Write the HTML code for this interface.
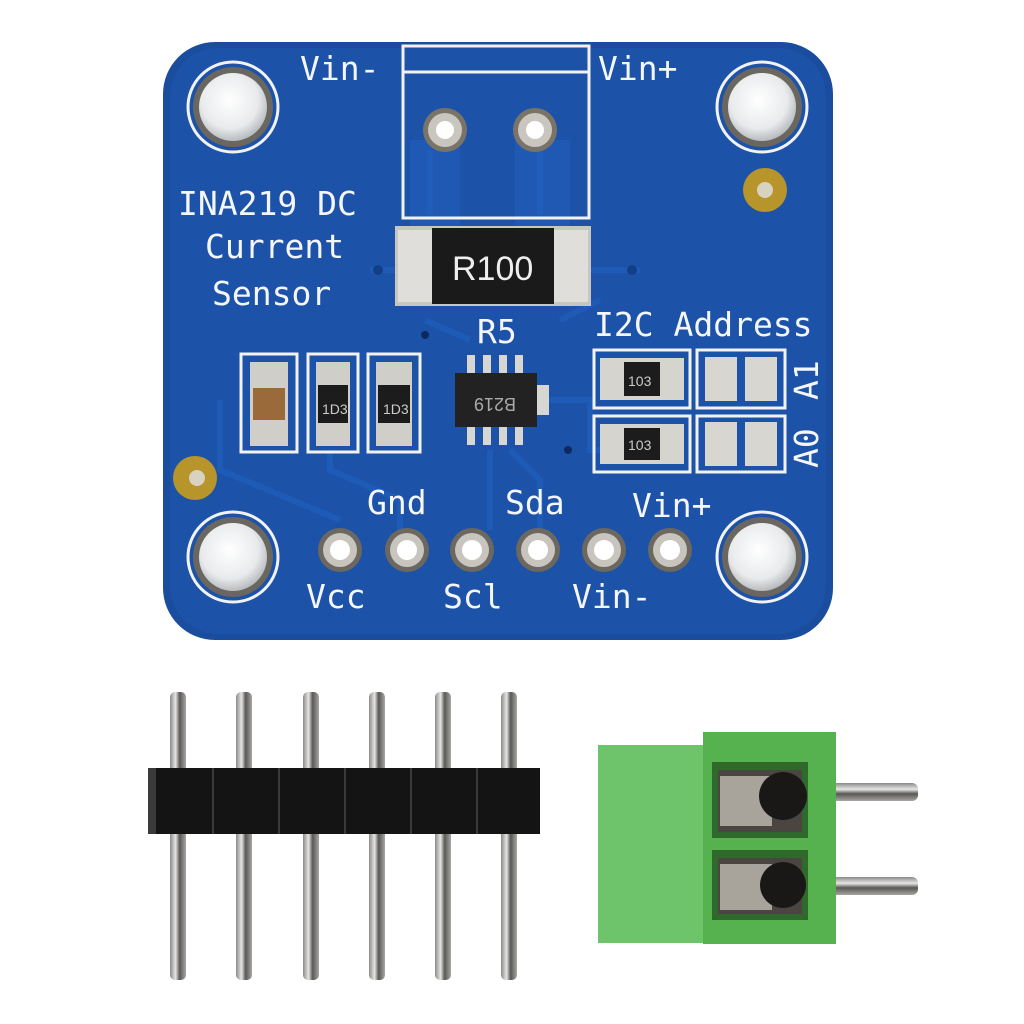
<!DOCTYPE html>
<html><head><meta charset="utf-8"><style>
html,body{margin:0;padding:0;background:#fff;width:1024px;height:1024px;overflow:hidden}
svg{display:block}
.t{font-family:"DejaVu Sans Mono","Liberation Mono",monospace;fill:#f4f6fa;font-size:33px}
</style></head><body>
<svg width="1024" height="1024" viewBox="0 0 1024 1024" xmlns="http://www.w3.org/2000/svg">
<defs>
<radialGradient id="hole" cx="0.45" cy="0.4" r="0.6"><stop offset="0" stop-color="#fff"/><stop offset="0.7" stop-color="#e8eaec"/><stop offset="1" stop-color="#b8bcc0"/></radialGradient>
<linearGradient id="pin" x1="0" x2="1"><stop offset="0" stop-color="#8a8a88"/><stop offset="0.35" stop-color="#e6e6e4"/><stop offset="0.6" stop-color="#5a5856"/><stop offset="1" stop-color="#a8a6a2"/></linearGradient>
<linearGradient id="pinh" x1="0" y1="0" x2="0" y2="1"><stop offset="0" stop-color="#8a8a88"/><stop offset="0.35" stop-color="#e6e6e4"/><stop offset="0.6" stop-color="#5a5856"/><stop offset="1" stop-color="#a8a6a2"/></linearGradient>
</defs>
<!-- board -->
<rect x="163" y="42" width="670" height="598" rx="52" fill="#1b4d9e"/>
<rect x="170" y="48" width="656" height="586" rx="48" fill="#1c52a8"/>
<!-- traces -->
<g stroke="#1f5cb8" stroke-width="6" fill="none" opacity="0.9">
<path d="M430 150 L430 215 M540 150 L540 215"/>
<path d="M370 270 L395 270 M590 270 L640 270"/>
<path d="M220 400 L220 470 L340 520 M330 450 L330 470 L400 500 L400 540"/>
<path d="M490 450 L490 530 M510 450 L540 480 L540 540 M545 400 L590 400 L590 450 L660 450"/>
<path d="M425 320 L470 340 M560 320 L600 300"/>
</g>
<path d="M410 140 L410 230 L460 230 L460 140 Z M515 140 L515 230 L570 230 L570 140 Z" fill="#2460bf" opacity="0.5"/>
<!-- mounting holes -->
<g>
<circle cx="233" cy="107" r="45" fill="none" stroke="#f2f2f2" stroke-width="3"/><circle cx="233" cy="107" r="40" fill="#6a6660"/><circle cx="233" cy="107" r="34" fill="url(#hole)"/>
<circle cx="762" cy="107" r="45" fill="none" stroke="#f2f2f2" stroke-width="3"/><circle cx="762" cy="107" r="40" fill="#6a6660"/><circle cx="762" cy="107" r="34" fill="url(#hole)"/>
<circle cx="233" cy="557" r="45" fill="none" stroke="#f2f2f2" stroke-width="3"/><circle cx="233" cy="557" r="40" fill="#6a6660"/><circle cx="233" cy="557" r="34" fill="url(#hole)"/>
<circle cx="762" cy="557" r="45" fill="none" stroke="#f2f2f2" stroke-width="3"/><circle cx="762" cy="557" r="40" fill="#6a6660"/><circle cx="762" cy="557" r="34" fill="url(#hole)"/>
</g>
<!-- gold fiducial pads -->
<circle cx="765" cy="190" r="22" fill="#b8952a"/><circle cx="765" cy="190" r="8" fill="#d8d2c0"/>
<circle cx="195" cy="478" r="22" fill="#b8952a"/><circle cx="197" cy="478" r="8" fill="#d8d2c0"/>
<!-- terminal outline -->
<rect x="403" y="46" width="186" height="172" fill="none" stroke="#f2f2f2" stroke-width="3"/>
<line x1="403" y1="72" x2="589" y2="72" stroke="#f2f2f2" stroke-width="3"/>
<circle cx="445" cy="130" r="22" fill="#7a7468"/><circle cx="445" cy="130" r="17" fill="#c9c6c0"/><circle cx="445" cy="130" r="9" fill="#fff"/>
<circle cx="535" cy="130" r="22" fill="#7a7468"/><circle cx="535" cy="130" r="17" fill="#c9c6c0"/><circle cx="535" cy="130" r="9" fill="#fff"/>
<!-- labels -->
<text class="t" x="300" y="80">Vin-</text>
<text class="t" x="598" y="80">Vin+</text>
<text class="t" x="178" y="215">INA219 DC</text>
<text class="t" x="205" y="258">Current</text>
<text class="t" x="212" y="305">Sensor</text>
<!-- R100 -->
<rect x="395" y="226" width="196" height="80" fill="#c8c6c0"/>
<rect x="398" y="230" width="36" height="72" fill="#e0dedb"/><rect x="552" y="230" width="36" height="72" fill="#e0dedb"/>
<rect x="432" y="228" width="122" height="76" fill="#1a1a1a"/>
<text x="452" y="280" font-family="Liberation Sans,sans-serif" font-size="34" fill="#eee">R100</text>
<circle cx="378" cy="270" r="5" fill="#123f85"/><circle cx="632" cy="270" r="5" fill="#123f85"/>
<circle cx="425" cy="335" r="4" fill="#0c2a60"/><circle cx="568" cy="450" r="4" fill="#0c2a60"/>
<!-- R5 chip -->
<text class="t" x="477" y="343" font-size="24">R5</text>
<g fill="#d8d6d2">
<rect x="467" y="355" width="8" height="20"/><rect x="483" y="355" width="8" height="20"/><rect x="499" y="355" width="8" height="20"/><rect x="515" y="355" width="8" height="20"/>
<rect x="467" y="425" width="8" height="20"/><rect x="483" y="425" width="8" height="20"/><rect x="499" y="425" width="8" height="20"/><rect x="515" y="425" width="8" height="20"/>
</g>
<rect x="455" y="373" width="82" height="54" fill="#222"/>
<rect x="537" y="385" width="12" height="30" fill="#d8d6d2"/>
<text x="472" y="410" font-family="Liberation Sans,sans-serif" font-size="18" fill="#aaa" transform="rotate(180 494 404)">B219</text>
<!-- left components -->
<g fill="none" stroke="#f2f2f2" stroke-width="3">
<rect x="241" y="354" width="56" height="98"/><rect x="308" y="354" width="50" height="98"/><rect x="368" y="354" width="52" height="98"/>
<rect x="594" y="350" width="96" height="58"/><rect x="697" y="350" width="88" height="58"/>
<rect x="594" y="416" width="96" height="56"/><rect x="697" y="416" width="88" height="56"/>
</g>
<rect x="250" y="362" width="38" height="84" fill="#d0cec8"/><rect x="253" y="388" width="32" height="32" fill="#9a6a3a"/>
<rect x="316" y="362" width="34" height="84" fill="#d0cec8"/><rect x="318" y="385" width="30" height="38" fill="#1c1c1c"/>
<rect x="376" y="362" width="36" height="84" fill="#d0cec8"/><rect x="378" y="385" width="32" height="38" fill="#1c1c1c"/>
<text x="322" y="414" font-family="Liberation Sans,sans-serif" font-size="14" fill="#ccc">1D3</text>
<text x="383" y="414" font-family="Liberation Sans,sans-serif" font-size="14" fill="#ccc">1D3</text>
<!-- I2C address -->
<text class="t" x="594" y="336" font-size="26">I2C Address</text>
<rect x="600" y="358" width="84" height="42" fill="#d6d4cf"/><rect x="624" y="362" width="36" height="34" fill="#1c1c1c"/>
<text x="628" y="386" font-family="Liberation Sans,sans-serif" font-size="14" fill="#ccc">103</text>
<rect x="600" y="424" width="84" height="40" fill="#d6d4cf"/><rect x="624" y="428" width="36" height="32" fill="#1c1c1c"/>
<text x="628" y="450" font-family="Liberation Sans,sans-serif" font-size="14" fill="#ccc">103</text>
<rect x="705" y="357" width="32" height="44" fill="#d8d6d1"/><rect x="745" y="357" width="32" height="44" fill="#d8d6d1"/>
<rect x="705" y="422" width="32" height="44" fill="#d8d6d1"/><rect x="745" y="422" width="32" height="44" fill="#d8d6d1"/>
<text class="t" x="0" y="0" font-size="26" transform="translate(818 400) rotate(-90)">A1</text>
<text class="t" x="0" y="0" font-size="26" transform="translate(818 468) rotate(-90)">A0</text>
<!-- header pads -->
<g>
<circle cx="340" cy="550" r="22" fill="#6c6860"/><circle cx="340" cy="550" r="17" fill="#c8c5bf"/><circle cx="340" cy="550" r="10" fill="#fff"/>
<circle cx="407" cy="550" r="22" fill="#6c6860"/><circle cx="407" cy="550" r="17" fill="#c8c5bf"/><circle cx="407" cy="550" r="10" fill="#fff"/>
<circle cx="472" cy="550" r="22" fill="#6c6860"/><circle cx="472" cy="550" r="17" fill="#c8c5bf"/><circle cx="472" cy="550" r="10" fill="#fff"/>
<circle cx="538" cy="550" r="22" fill="#6c6860"/><circle cx="538" cy="550" r="17" fill="#c8c5bf"/><circle cx="538" cy="550" r="10" fill="#fff"/>
<circle cx="604" cy="550" r="22" fill="#6c6860"/><circle cx="604" cy="550" r="17" fill="#c8c5bf"/><circle cx="604" cy="550" r="10" fill="#fff"/>
<circle cx="670" cy="550" r="22" fill="#6c6860"/><circle cx="670" cy="550" r="17" fill="#c8c5bf"/><circle cx="670" cy="550" r="10" fill="#fff"/>
</g>
<text class="t" x="367" y="514">Gnd</text>
<text class="t" x="505" y="514">Sda</text>
<text class="t" x="632" y="517">Vin+</text>
<text class="t" x="306" y="608">Vcc</text>
<text class="t" x="443" y="608">Scl</text>
<text class="t" x="572" y="608">Vin-</text>
<!-- pin header -->
<g fill="url(#pin)">
<rect x="170" y="692" width="16" height="288" rx="5"/><rect x="236" y="692" width="16" height="288" rx="5"/>
<rect x="303" y="692" width="16" height="288" rx="5"/><rect x="369" y="692" width="16" height="288" rx="5"/>
<rect x="435" y="692" width="16" height="288" rx="5"/><rect x="501" y="692" width="16" height="288" rx="5"/>
</g>
<rect x="148" y="768" width="392" height="66" fill="#141414"/>
<g stroke="#3a3a3a" stroke-width="2">
<line x1="213" y1="768" x2="213" y2="834"/><line x1="279" y1="768" x2="279" y2="834"/><line x1="345" y1="768" x2="345" y2="834"/><line x1="411" y1="768" x2="411" y2="834"/><line x1="477" y1="768" x2="477" y2="834"/>
</g>
<rect x="148" y="768" width="8" height="66" fill="#3a3a3a"/>
<!-- terminal block -->
<rect x="815" y="783" width="103" height="18" rx="6" fill="url(#pinh)"/>
<rect x="815" y="877" width="103" height="18" rx="6" fill="url(#pinh)"/>
<rect x="598" y="745" width="112" height="198" fill="#6ec46a"/>
<rect x="703" y="732" width="133" height="212" fill="#56b24e"/>
<rect x="712" y="762" width="96" height="76" fill="#2f6a2c"/>
<rect x="712" y="850" width="96" height="70" fill="#2f6a2c"/>
<rect x="718" y="770" width="84" height="62" fill="#4a4540"/><rect x="720" y="776" width="52" height="50" fill="#a8a49c"/><circle cx="783" cy="796" r="24" fill="#1a1816"/>
<rect x="718" y="858" width="84" height="56" fill="#4a4540"/><rect x="720" y="864" width="52" height="46" fill="#a8a49c"/><circle cx="783" cy="885" r="23" fill="#1a1816"/>
</svg>
</body></html>
